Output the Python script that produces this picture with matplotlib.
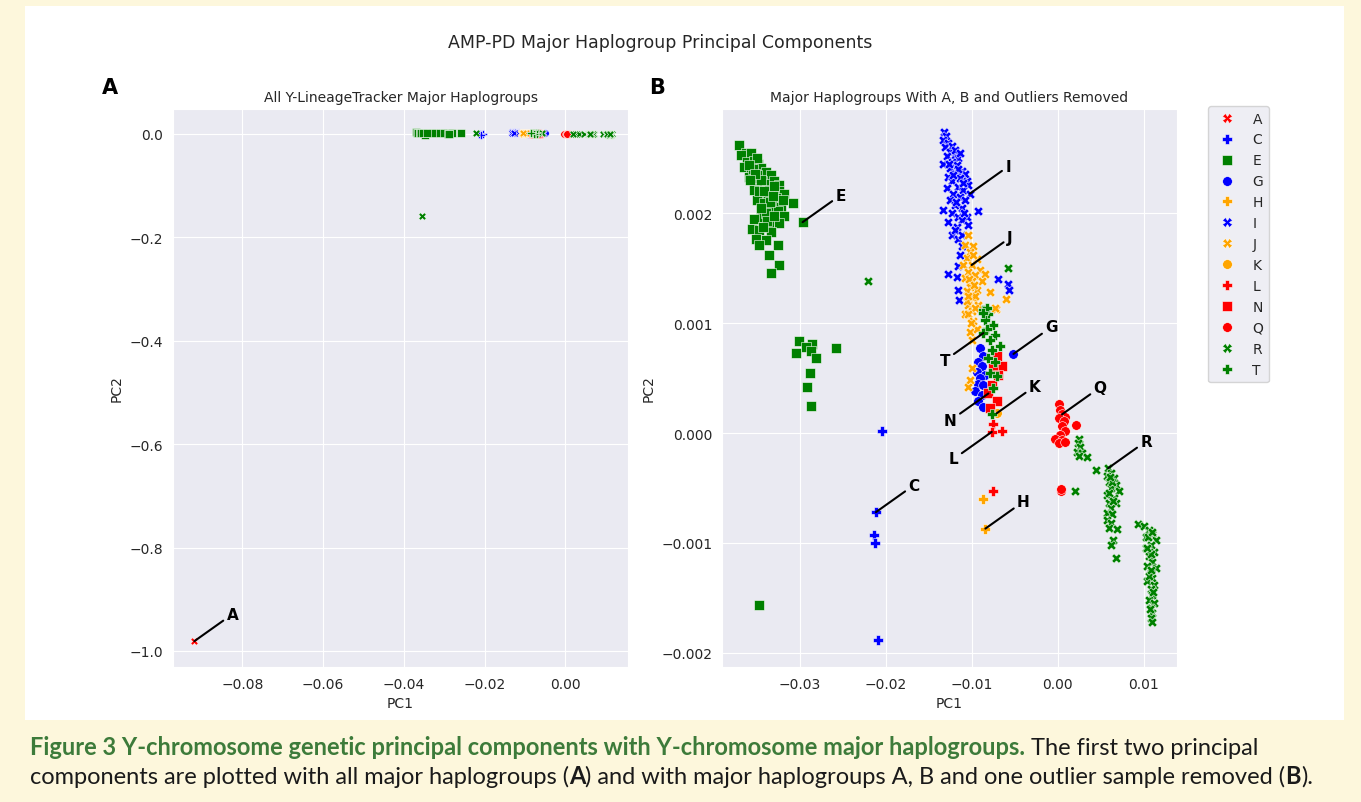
"""
AMP-PD Y-chromosome major haplogroup PCA, two panels:
A) all samples, B) haplogroups A, B and the outlier removed.
Values are read off the published figure (PC units x 1e-3).
"""

import matplotlib
matplotlib.use("Agg")
import numpy as np
import matplotlib.pyplot as plt
import seaborn as sns
from matplotlib.lines import Line2D
from matplotlib.patches import Rectangle
from matplotlib.transforms import IdentityTransform

sns.set_style("darkgrid")
plt.rcParams["font.family"] = ["DejaVu Sans"]

MILLI = 1e-3

HAPLOGROUPS = ["A", "C", "E", "G", "H", "I", "J", "K", "L", "N", "Q", "R", "T"]

# ---- data, PC1 / PC2 in units of 1e-3 ----
A_PC1 = [-91.9]
A_PC2 = [-981.0]

C_PC1 = [-20.47, -21.17, -21.40, -21.29, -20.94]
C_PC2 = [0.02, -0.72, -0.93, -1.00, -1.88]

E_PC1 = [-37.11, -36.34, -36.84, -35.75, -36.22, -35.36, -34.89, -36.53, -35.75, -34.58,
         -34.00, -35.94, -34.97, -33.41, -34.39, -35.36, -33.80, -33.02, -32.43, -34.97,
         -33.60, -32.43, -31.85, -35.36, -34.58, -33.80, -32.83, -30.88, -34.97, -34.19,
         -33.22, -32.25, -34.58, -33.60, -32.63, -31.85, -34.39, -33.41, -32.43, -33.60,
         -29.71, -35.56, -34.77, -33.41, -35.17, -34.00, -34.77, -32.63, -33.60, -32.43,
         -33.41, -35.50, -34.50, -33.50, -34.00, -35.00, -33.00, -34.80, -33.90,
         -30.10, -28.65, -29.32, -28.74, -30.44, -25.81, -28.15, -28.81, -29.20, -28.74,
         -34.74,
         -36.00, -35.20, -34.20, -33.20, -32.00, -35.80, -34.60, -33.00, -35.40, -34.30]
E_PC2 = [2.62, 2.55, 2.53, 2.55, 2.47, 2.48, 2.45, 2.42, 2.39, 2.41,
         2.38, 2.33, 2.35, 2.35, 2.29, 2.27, 2.27, 2.29, 2.26, 2.23,
         2.21, 2.20, 2.18, 2.21, 2.17, 2.15, 2.14, 2.09, 2.12, 2.09,
         2.08, 2.06, 2.03, 2.03, 2.02, 1.98, 1.97, 1.95, 1.91, 1.89,
         1.92, 1.86, 1.85, 1.83, 1.77, 1.76, 1.71, 1.71, 1.62, 1.53,
         1.46, 2.40, 2.30, 2.10, 2.00, 2.50, 2.25, 2.20, 1.93,
         0.84, 0.81, 0.78, 0.75, 0.73, 0.77, 0.68, 0.55, 0.42, 0.25,
         -1.57,
         2.44, 2.36, 2.20, 2.16, 2.12, 2.30, 2.05, 1.98, 1.95, 1.88]

G_PC1 = [-9.04, -8.65, -9.24, -8.85, -9.44, -8.46, -9.04, -9.24, -8.65, -9.63,
         -8.85, -9.24, -8.65, -5.15]
G_PC2 = [0.77, 0.70, 0.65, 0.61, 0.56, 0.53, 0.50, 0.45, 0.44, 0.38,
         0.35, 0.29, 0.24, 0.72]

H_PC1 = [-8.65, -8.42]
H_PC2 = [-0.60, -0.87]

I_PC1 = [-13.22, -13.06, -13.33, -12.75, -13.14, -12.36, -12.55, -11.97, -12.94, -11.58,
         -12.36, -13.33, -11.78, -12.55, -11.19, -10.80, -11.97, -12.83, -11.38, -10.61,
         -12.36, -10.41, -11.58, -12.94, -10.99, -10.21, -12.16, -11.38, -12.55, -10.80,
         -13.33, -11.97, -11.19, -9.32, -12.36, -11.58, -10.61, -12.83, -11.19, -10.41,
         -11.78, -12.36, -11.58, -11.19, -11.38, -11.58, -12.83, -11.78, -6.98, -5.73,
         -5.65, -11.58, -11.50,
         -12.00, -11.60, -12.20, -11.00, -11.80, -10.90, -12.00, -11.20, -12.70, -11.40]
I_PC2 = [2.74, 2.70, 2.67, 2.64, 2.60, 2.61, 2.56, 2.53, 2.52, 2.50,
         2.47, 2.45, 2.44, 2.41, 2.39, 2.36, 2.36, 2.33, 2.32, 2.29,
         2.29, 2.26, 2.24, 2.23, 2.21, 2.18, 2.18, 2.15, 2.12, 2.12,
         2.03, 2.08, 2.05, 2.02, 2.00, 1.97, 1.97, 1.92, 1.94, 1.89,
         1.88, 1.80, 1.77, 1.70, 1.62, 1.52, 1.45, 1.42, 1.40, 1.36,
         1.30, 1.30, 1.21,
         2.58, 2.40, 2.35, 2.28, 2.10, 2.00, 1.85, 1.80, 2.45, 2.55]

J_PC1 = [-10.41, -10.80, -9.82, -10.21, -10.61, -9.44, -10.02, -10.99, -9.04, -10.41,
         -9.63, -8.46, -10.80, -10.02, -8.85, -10.21, -9.44, -7.87, -10.61, -6.05,
         -9.82, -10.41, -9.24, -7.21, -10.02, -10.80, -10.61, -9.63, -10.41, -9.82,
         -10.21, -9.44, -7.29, -10.02, -10.02, -10.21, -10.49,
         -9.90, -10.30, -9.60, -10.10, -9.70, -10.50]
J_PC2 = [1.80, 1.71, 1.70, 1.65, 1.59, 1.58, 1.53, 1.53, 1.48, 1.47,
         1.44, 1.45, 1.41, 1.38, 1.38, 1.33, 1.30, 1.28, 1.29, 1.22,
         1.23, 1.17, 1.17, 1.13, 1.11, 1.08, 1.20, 1.14, 1.08, 1.02,
         0.92, 0.95, 1.14, 0.85, 0.59, 0.48, 0.42,
         1.62, 1.40, 1.25, 1.00, 1.35, 1.25]

K_PC1 = [-7.10]
K_PC2 = [0.18]

L_PC1 = [-7.49, -6.43, -7.68, -7.49]
L_PC2 = [0.08, 0.02, 0.01, -0.53]

N_PC1 = [-7.10, -6.51, -7.49, -6.90, -7.68, -8.07, -7.10, -7.87]
N_PC2 = [0.70, 0.61, 0.59, 0.53, 0.44, 0.36, 0.29, 0.23]

Q_PC1 = [0.12, 0.31, 0.51, 0.90, 0.12, 0.70, 0.51, 2.14, 0.82, 0.31,
         -0.27, 0.51, 0.12, 0.90, 0.43, 0.35]
Q_PC2 = [0.26, 0.21, 0.17, 0.15, 0.14, 0.11, 0.06, 0.07, 0.02, -0.02,
         -0.05, -0.06, -0.09, -0.08, -0.53, -0.51]

R_PC1 = [2.54, 2.38, 2.65, 2.26, 2.85, 2.46, 3.43, 4.48, 1.99,
         5.88, 6.16, 5.77, 6.55, 5.96, 6.75, 6.16, 7.13, 5.77, 6.55,
         5.96, 6.75, 6.16, 5.77, 6.35, 5.77, 6.16, 5.96, 6.94, 6.43,
         6.16, 6.82,
         9.39, 10.06, 10.64, 11.03, 10.26, 11.43, 10.84, 10.26, 11.23, 10.64,
         11.03, 10.45, 11.43, 10.84, 11.03, 10.45, 11.23, 10.84, 11.03, 10.64,
         11.23, 10.84, 11.03, 10.84, 11.03,
         -22.10, -5.81,
         10.50, 10.90, 10.60, 11.10, 10.70, 10.90, 10.40, 11.00,
         6.30, 6.00, 6.40, 6.10]
R_PC2 = [-0.05, -0.09, -0.13, -0.17, -0.18, -0.21, -0.22, -0.34, -0.53,
         -0.32, -0.36, -0.39, -0.41, -0.45, -0.47, -0.50, -0.53, -0.56, -0.59,
         -0.64, -0.64, -0.68, -0.73, -0.74, -0.79, -0.82, -0.86, -0.87, -0.97,
         -1.02, -1.14,
         -0.83, -0.85, -0.88, -0.92, -0.95, -0.97, -1.02, -1.05, -1.08, -1.12,
         -1.17, -1.21, -1.23, -1.27, -1.32, -1.35, -1.38, -1.42, -1.47, -1.52,
         -1.55, -1.59, -1.64, -1.68, -1.72,
         1.38, 1.50,
         -0.95, -1.10, -1.30, -1.45, -1.60, -1.25, -1.05, -0.90,
         -0.45, -0.55, -0.62, -0.40]

T_PC1 = [-8.65, -8.07, -8.46, -7.49, -8.27, -7.29, -7.87, -6.70, -7.68, -8.07,
         -7.29, -7.87, -7.10, -7.49, -7.68, -8.27, -8.65, -8.65]
T_PC2 = [1.12, 1.08, 1.03, 0.98, 0.95, 0.89, 0.85, 0.79, 0.76, 0.68,
         0.65, 0.55, 0.52, 0.41, 0.17, 1.14, 1.09, 0.91]

# samples only present in panel A (the one outlier is an R)
OUTLIER_PC1 = [-35.6]
OUTLIER_PC2 = [-158.0]

# which sample carries each text label: (group, index, direction)
LABELS_A = [("A", 0, 1)]
LABELS_B = [("E", 40, 1), ("I", 25, 1), ("J", 6, 1), ("G", 13, 1), ("T", 17, -1),
            ("K", 0, 1), ("N", 5, -1), ("L", 2, -1), ("Q", 2, 1), ("R", 9, 1),
            ("C", 1, 1), ("H", 1, 1)]

COLOURS = {"A": "red", "C": "blue", "E": "green", "G": "blue", "H": "orange",
           "I": "blue", "J": "orange", "K": "orange", "L": "red", "N": "red",
           "Q": "red", "R": "green", "T": "green"}
MARKERS = {"A": "X", "C": "P", "E": "s", "G": "o", "H": "P", "I": "X", "J": "X",
           "K": "o", "L": "P", "N": "s", "Q": "o", "R": "X", "T": "P"}

PC1 = {"A": A_PC1, "C": C_PC1, "E": E_PC1, "G": G_PC1, "H": H_PC1, "I": I_PC1,
       "J": J_PC1, "K": K_PC1, "L": L_PC1, "N": N_PC1, "Q": Q_PC1, "R": R_PC1,
       "T": T_PC1}
PC2 = {"A": A_PC2, "C": C_PC2, "E": E_PC2, "G": G_PC2, "H": H_PC2, "I": I_PC2,
       "J": J_PC2, "K": K_PC2, "L": L_PC2, "N": N_PC2, "Q": Q_PC2, "R": R_PC2,
       "T": T_PC2}

W, H = 1361, 803
CREAM = "#fdf7dc"
CAPTION_GREEN = "#3d7b3a"


def fig_box(left, top, right, bottom):
    # pixel box -> figure fraction [l, b, w, h]
    return [left / W, 1 - bottom / H, (right - left) / W, (bottom - top) / H]


def scatter_groups(ax, groups, size, extra=None):
    for g in groups:
        x = np.array(PC1[g]) * MILLI
        y = np.array(PC2[g]) * MILLI
        if extra and g in extra:
            x = np.append(x, np.array(extra[g][0]) * MILLI)
            y = np.append(y, np.array(extra[g][1]) * MILLI)
        # the filled plus reads thinner than the other glyphs, bump it a little
        s = size * 1.3 if MARKERS[g] == "P" else size
        ax.scatter(x, y, s=s, marker=MARKERS[g], c=COLOURS[g],
                   edgecolors="white", linewidths=0.4, zorder=3)


def label_points(ax, labels):
    for g, i, d in labels:
        xy = (PC1[g][i] * MILLI, PC2[g][i] * MILLI)
        ax.annotate(g, xy=xy, xytext=(38 * d, 27 * d), textcoords="offset pixels",
                    ha="center", va="center", fontsize=11, fontweight="bold",
                    color="black",
                    arrowprops=dict(arrowstyle="-", color="black", lw=1.5,
                                    shrinkA=0, shrinkB=0), zorder=5)


def write_caption(fig, lines, x0, baselines, target_width):
    renderer = fig.canvas.get_renderer()
    texts = []
    for runs, base in zip(lines, baselines):
        row = []
        for s, bold, colour, gap in runs:
            t = fig.text(0, H - base, s, transform=IdentityTransform(),
                         family=["Lato", "DejaVu Sans"], color=colour,
                         fontweight="bold" if bold else "normal", va="baseline")
            row.append((t, gap))
        texts.append(row)

    def layout(size):
        widths = []
        for row in texts:
            x = x0
            for t, gap in row:
                t.set_fontsize(size)
                if gap:
                    sp = fig.text(0, 0, "a a", fontsize=size, family=["Lato"])
                    nsp = fig.text(0, 0, "aa", fontsize=size, family=["Lato"])
                    x += (sp.get_window_extent(renderer).width
                          - nsp.get_window_extent(renderer).width)
                    sp.remove()
                    nsp.remove()
                t.set_x(x)
                x += t.get_window_extent(renderer).width
            widths.append(x - x0)
        return widths[0]

    size = 13.0
    w = layout(size)
    size = size * target_width / w
    layout(size)


def main():
    fig = plt.figure(figsize=(W / 100, H / 100), dpi=100, facecolor=CREAM)
    fig.add_artist(Rectangle((25 / W, 1 - 721 / H), (1344 - 25) / W, (721 - 7) / H,
                             transform=fig.transFigure, facecolor="white",
                             edgecolor="none", zorder=-5))

    ax_a = fig.add_axes(fig_box(173, 110, 628, 668))
    ax_b = fig.add_axes(fig_box(722, 110, 1177, 668))

    # panel A: every haplogroup, plus the single R outlier
    scatter_groups(ax_a, HAPLOGROUPS, 30, extra={"R": (OUTLIER_PC1, OUTLIER_PC2)})
    label_points(ax_a, LABELS_A)
    ax_a.set_xlim(-0.0972, 0.0155)
    ax_a.set_ylim(-1.031, 0.048)
    ax_a.set_xticks([-0.08, -0.06, -0.04, -0.02, 0.0])
    ax_a.set_yticks([0.0, -0.2, -0.4, -0.6, -0.8, -1.0])
    ax_a.set_xlabel("PC1")
    ax_a.set_ylabel("PC2")
    ax_a.set_title("All Y-LineageTracker Major Haplogroups", fontsize=10)

    # panel B: A, B and the outlier removed
    scatter_groups(ax_b, [g for g in HAPLOGROUPS if g != "A"], 48)
    label_points(ax_b, LABELS_B)
    ax_b.set_xlim(-0.0391, 0.0139)
    ax_b.set_ylim(-0.00213, 0.00295)
    ax_b.set_xticks([-0.03, -0.02, -0.01, 0.0, 0.01])
    ax_b.set_yticks([-0.002, -0.001, 0.0, 0.001, 0.002])
    ax_b.set_xlabel("PC1")
    ax_b.set_ylabel("PC2")
    ax_b.set_title("Major Haplogroups With A, B and Outliers Removed", fontsize=10)

    handles = [Line2D([], [], linestyle="", marker=MARKERS[g], color=COLOURS[g],
                      markersize=7, markeredgecolor="white", markeredgewidth=0.4,
                      label=g) for g in HAPLOGROUPS]
    fig.legend(handles=handles, loc="upper left", bbox_to_anchor=(1208 / W, 1 - 107 / H),
               borderaxespad=0, fontsize=10)

    fig.text(660 / W, 1 - 43 / H, "AMP-PD Major Haplogroup Principal Components",
             ha="center", va="center", fontsize=12.5)
    fig.text(110 / W, 1 - 88 / H, "A", ha="center", va="center", fontsize=15,
             fontweight="bold", color="black")
    fig.text(657 / W, 1 - 88 / H, "B", ha="center", va="center", fontsize=15,
             fontweight="bold", color="black")

    dark = "#1a1a1a"
    line1 = [("Figure 3 Y-chromosome genetic principal components with "
              "Y-chromosome major haplogroups.", True, CAPTION_GREEN, False),
             ("The first two principal", False, dark, True)]
    line2 = [("components are plotted with all major haplogroups (", False, dark, False),
             ("A", True, dark, False),
             (") and with major haplogroups A, B and one outlier sample removed (",
              False, dark, False),
             ("B", True, dark, False),
             (").", False, dark, False)]
    write_caption(fig, [line1, line2], 30, [755, 784], 1228)

    fig.savefig("out.png", dpi=100, facecolor=CREAM)


if __name__ == "__main__":
    main()
